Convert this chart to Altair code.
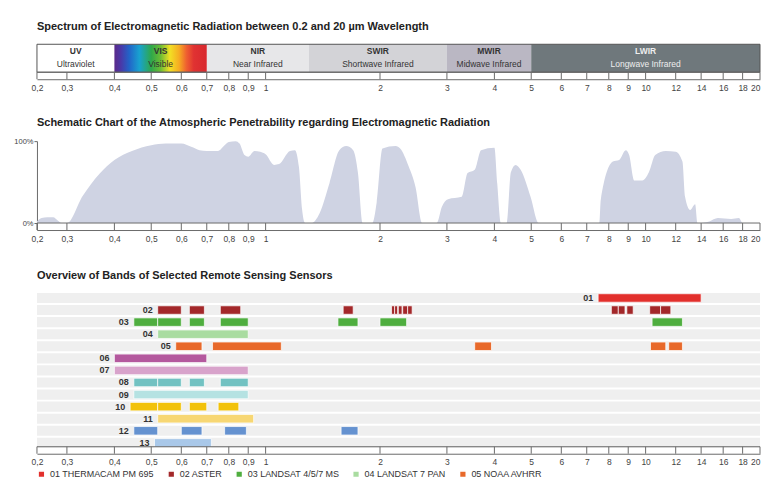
import math
import altair as alt
import pandas as pd

FONT = "Liberation Sans"

# ---------------- shared wavelength axis (µm) ----------------
tick_values = [0.2, 0.3, 0.4, 0.5, 0.6, 0.7, 0.8, 0.9, 1, 2, 3, 4, 5, 6, 7, 8, 9, 10, 12, 14, 16, 18, 20]
x_domain = [0.2, 0.3, 20]
W = 724
x_range = [0, 30, W]

# ---------------- spectrum regions ----------------
region_codes = ["UV", "VIS", "NIR", "SWIR", "MWIR", "LWIR"]
region_names = ["Ultraviolet", "Visible", "Near Infrared", "Shortwave Infrared",
                "Midwave Infrared", "Longwave Infrared"]
region_start = [0.2, 0.4, 0.7, 1.3, 3, 5]
region_end = [0.4, 0.7, 1.3, 3, 5, 20]
region_colors = ["#ffffff", "#ffffff", "#e7e7e9", "#d3d3d7", "#bab7c3", "#6f787c"]

# ---------------- atmospheric penetrability (%) ----------------
atm_wl = [0.2, 0.213, 0.23, 0.249, 0.265, 0.279, 0.3, 0.33, 0.365, 0.4, 0.445, 0.5, 0.546,
          0.6, 0.637, 0.67, 0.7, 0.749, 0.78, 0.8, 0.834, 0.854, 0.88, 0.9, 0.935, 0.968,
          1.0, 1.053, 1.085, 1.159, 1.194, 1.224, 1.247, 1.27, 1.32, 1.387, 1.473, 1.563,
          1.63, 1.70, 1.75, 1.80, 1.91, 1.96, 2.03, 2.20, 2.26, 2.38, 2.48, 2.58, 2.82,
          2.91, 3.02, 3.28, 3.40, 3.55, 3.69, 4.00, 4.07, 4.16, 4.31, 4.42, 4.55, 4.69,
          4.98, 5.23, 7.56, 7.62, 8.2, 8.52, 8.87, 9.05, 9.33, 9.8, 10.2, 10.6, 11.3, 12.0,
          12.5, 12.7, 13.1, 13.5, 13.7, 14.7, 15.5, 16.8, 17.6, 18.0, 20]
atm_pct = [2, 6, 7, 7, 3, 0, 0, 33, 60, 77, 88, 95, 97,
           97, 93, 89, 88, 88, 95, 99, 100, 97, 83, 81, 88, 87,
           84, 71, 72, 88, 89, 68, 17, 0, 0, 12, 49, 89,
           94, 89, 61, 0, 0, 25, 91, 94, 91, 69, 44, 0, 0,
           20, 29, 32, 61, 65, 89, 92, 48, 0, 0, 62, 71, 65,
           32, 0, 0, 28, 75, 77, 89, 83, 52, 52, 62, 83, 88, 87,
           75, 32, 16, 23, 0, 2, 6, 5, 6, 0, 0]

# ---------------- sensor bands (µm) ----------------
sensor_codes = ["01", "02", "03", "04", "05", "06", "07", "08", "09", "10", "11", "12", "13"]
sensor_colors = ["#e2302c", "#a3282a", "#4fae3f", "#a9dca0", "#e8692a", "#b4599e", "#d8a3cb",
                 "#72c2c2", "#b5e2e2", "#f2c20a", "#f7d774", "#6592d0", "#a9c8e9"]
legend_names = ["THERMACAM PM 695", "ASTER", "LANDSAT 4/5/7 MS", "LANDSAT 7 PAN", "NOAA AVHRR"]

band_01 = [(7.5, 14.0)]
band_02 = [(0.52, 0.60), (0.63, 0.69), (0.76, 0.86), (1.60, 1.70), (2.145, 2.185),
           (2.185, 2.225), (2.235, 2.285), (2.295, 2.365), (2.365, 2.43), (8.125, 8.475),
           (8.475, 8.825), (8.925, 9.275), (10.25, 10.95), (10.95, 11.65)]
band_03 = [(0.45, 0.52), (0.52, 0.60), (0.63, 0.69), (0.76, 0.90), (1.55, 1.75),
           (2.0, 2.35), (10.4, 12.5)]
band_04 = [(0.52, 0.90)]
band_05 = [(0.58, 0.68), (0.725, 1.10), (3.55, 3.93), (10.3, 11.3), (11.5, 12.5)]
band_06 = [(0.4, 0.7)]
band_07 = [(0.4, 0.9)]
band_08 = [(0.45, 0.52), (0.52, 0.60), (0.63, 0.69), (0.76, 0.90)]
band_09 = [(0.45, 0.90)]
band_10 = [(0.44, 0.52), (0.52, 0.60), (0.63, 0.70), (0.75, 0.85)]
band_11 = [(0.52, 0.93)]
band_12 = [(0.45, 0.52), (0.60, 0.68), (0.78, 0.89), (1.58, 1.75)]
band_13 = [(0.51, 0.72)]
all_bands = [band_01, band_02, band_03, band_04, band_05, band_06, band_07,
             band_08, band_09, band_10, band_11, band_12, band_13]

# ---------------- tables ----------------
def to_px(l):
    if l <= 0.3:
        return 30 * math.log(l / 0.2) / math.log(1.5)
    return 30 + (W - 30) * math.log(l / 0.3) / math.log(20 / 0.3)

def from_px(p):
    if p <= 30:
        return 0.2 * 1.5 ** (p / 30)
    return 0.3 * (20 / 0.3) ** ((p - 30) / (W - 30))

spec_df = pd.DataFrame({
    "code": region_codes, "name": region_names,
    "start": region_start, "end": region_end,
    "mid": [from_px((to_px(a) + to_px(b)) / 2) for a, b in zip(region_start, region_end)],
})
atm_df = pd.DataFrame({"wl": atm_wl, "pct": atm_pct})
ticks_df = pd.DataFrame({"wl": tick_values})
one_df = pd.DataFrame({"a": [0]})
rows = []
for i, (code, bl) in enumerate(zip(sensor_codes, all_bands)):
    for s, e in bl:
        rows.append({"code": code, "row": i + 1, "start": s, "end": e})
bands_df = pd.DataFrame(rows)
rows_df = pd.DataFrame({"code": sensor_codes, "row": list(range(1, 14))})

# ---------------- helpers ----------------
xs = alt.Scale(type="log", domain=x_domain, range=x_range, nice=False)
xaxis = alt.Axis(values=tick_values, format="~g", labelExpr="replace(datum.label, '.', ',')",
                 ticks=False, domain=True, domainColor="#6a6a6a", labelFontSize=8.5,
                 labelColor="#444", labelPadding=4, grid=False, title=None,
                 labelFlush=False, labelOverlap=False, labelFont=FONT,
                 labelAlign={"condition": {"test": "datum.value >= 20", "value": "right"},
                             "value": "center"})

def X(field):
    return alt.X(field, type="quantitative", scale=xs, axis=xaxis)

def ruler(h):
    t = alt.Chart(ticks_df).mark_rule(color="#6a6a6a", strokeWidth=1).encode(
        x=X("wl"), y=alt.value(h - 7), y2=alt.value(h))
    top = alt.Chart(one_df).mark_rule(color="#6a6a6a", strokeWidth=1).encode(
        x=alt.value(0), x2=alt.value(W), y=alt.value(h - 7))
    return [t, top]

def title(text, offset):
    return alt.TitleParams(text=text, anchor="start", frame="group", fontSize=11,
                           fontWeight="bold", color="#222", offset=offset, font=FONT)

# ---------------- panel 1 : spectrum ----------------
H1 = 35
BH = H1 - 7
base1 = alt.Chart(spec_df)
rects = base1.mark_rect().encode(
    x=X("start"), x2="end", y=alt.value(0), y2=alt.value(BH),
    fill=alt.Fill("code:N", scale=alt.Scale(domain=region_codes, range=region_colors), legend=None))
vis = base1.transform_filter("datum.code == 'VIS'").mark_rect(
    fill=alt.Gradient(gradient="linear", x1=0, x2=1, y1=0, y2=0, stops=[
        alt.GradientStop(color="#5a2a8a", offset=0),
        alt.GradientStop(color="#4a38a8", offset=0.07),
        alt.GradientStop(color="#2264c8", offset=0.16),
        alt.GradientStop(color="#18a2d0", offset=0.27),
        alt.GradientStop(color="#2fa84a", offset=0.40),
        alt.GradientStop(color="#6cbc34", offset=0.50),
        alt.GradientStop(color="#f2e024", offset=0.60),
        alt.GradientStop(color="#f6ac22", offset=0.70),
        alt.GradientStop(color="#ef6030", offset=0.78),
        alt.GradientStop(color="#e03232", offset=0.86),
        alt.GradientStop(color="#d8282e", offset=1),
    ])).encode(x=X("start"), x2="end", y=alt.value(0), y2=alt.value(BH))
border = alt.Chart(one_df).mark_rect(fillOpacity=0, stroke="#555", strokeWidth=1).encode(
    x=alt.value(0), x2=alt.value(W), y=alt.value(0), y2=alt.value(BH))
txt_color = alt.condition("datum.code == 'LWIR'", alt.value("#eeeeee"), alt.value("#333333"))
t_code = base1.mark_text(fontWeight="bold", fontSize=8.5, font=FONT, baseline="middle").encode(
    x=X("mid"), y=alt.value(7), text="code:N", color=txt_color)
t_name = base1.mark_text(fontSize=8.5, font=FONT, baseline="middle").encode(
    x=X("mid"), y=alt.value(19.5), text="name:N", color=txt_color)
p1 = alt.layer(rects, vis, border, t_code, t_name, *ruler(H1)).properties(
    width=W, height=H1,
    title=title("Spectrum of Electromagnetic Radiation between 0.2 and 20 µm Wavelength", 12))

# ---------------- panel 2 : atmosphere ----------------
H2 = 89
ys2 = alt.Scale(domain=[-8.54, 100], nice=False, zero=False)
area = alt.Chart(atm_df).mark_area(color="#cfd3e3", interpolate="monotone").encode(
    x=X("wl"),
    y=alt.Y("pct:Q", scale=ys2, axis=alt.Axis(
        values=[0, 100], labelExpr="datum.value + '%'", tickSize=3, tickColor="#6a6a6a",
        domainColor="#6a6a6a", labelFontSize=7.5, labelColor="#444", labelPadding=1,
        grid=False, title=None, labelFont=FONT)),
    y2=alt.datum(0))
p2 = alt.layer(area, *ruler(H2)).properties(
    width=W, height=H2,
    title=title("Schematic Chart of the Atmospheric Penetrability regarding Electromagnetic Radiation", 9))

# ---------------- panel 3 : sensors ----------------
H3 = 162
ys3 = alt.Scale(domain=[13.9, 0.5], nice=False, zero=False)
stripes = alt.Chart(rows_df).transform_calculate(
    y0="datum.row - 0.42", y1="datum.row + 0.42").mark_rect(color="#efefef").encode(
    x=alt.value(0), x2=alt.value(W),
    y=alt.Y("y0:Q", scale=ys3, axis=None), y2="y1:Q")
bars = alt.Chart(bands_df).transform_calculate(
    y0="datum.row - 0.35", y1="datum.row + 0.35").mark_rect(stroke="white", strokeWidth=0.7).encode(
    x=X("start"), x2="end",
    y=alt.Y("y0:Q", scale=ys3, axis=None), y2="y1:Q",
    color=alt.Color("code:N", scale=alt.Scale(domain=sensor_codes, range=sensor_colors),
                    legend=alt.Legend(
                        values=sensor_codes[:5], orient="bottom", direction="horizontal",
                        title=None, symbolType="square", symbolSize=45, labelFontSize=9,
                        labelColor="#333", labelFont=FONT, columnPadding=10, offset=3,
                        labelExpr="datum.label + ' ' + " + str(legend_names) +
                                  "[toNumber(datum.label) - 1]")))
labels = alt.Chart(bands_df).transform_aggregate(
    first="min(start)", groupby=["code", "row"]).mark_text(
    align="right", baseline="middle", dx=-5, fontWeight="bold", fontSize=9,
    color="#333", font=FONT).encode(
    x=X("first"), y=alt.Y("row:Q", scale=ys3, axis=None), text="code:N")
p3 = alt.layer(stripes, bars, labels, *ruler(H3)).properties(
    width=W, height=H3,
    title=title("Overview of Bands of Selected Remote Sensing Sensors", 11))

top_part = alt.vconcat(p1, p2, spacing=25)
chart = alt.vconcat(top_part, p3, spacing=27).properties(
    padding={"left": 5, "top": 12, "right": 0, "bottom": 3}
).configure(font=FONT).configure_view(stroke=None)

chart.save("out.html", embed_options={"renderer": "svg", "actions": False})
